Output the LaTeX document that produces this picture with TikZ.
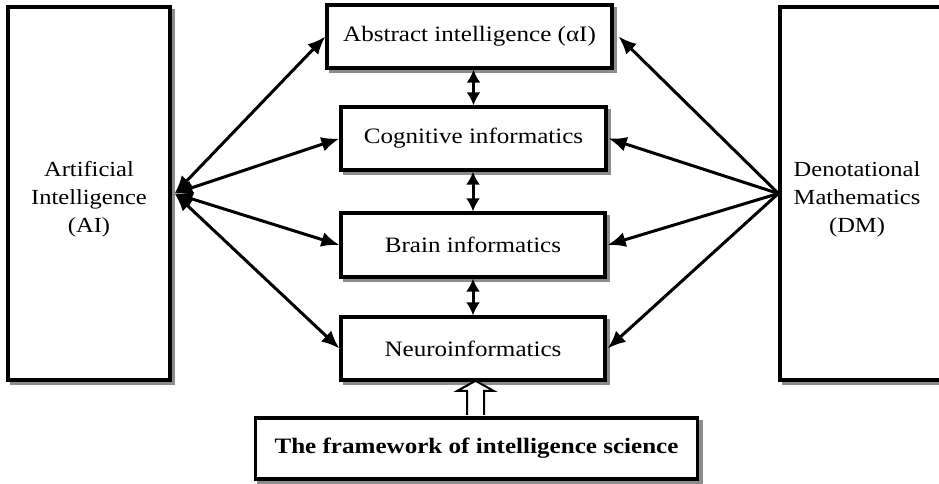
\documentclass[tikz,border=0pt]{standalone}
\usepackage{fontspec}
\setmainfont[FakeStretch=1.14]{Liberation Serif}
\usetikzlibrary{arrows.meta}
\begin{document}
\begin{tikzpicture}[x=1pt,y=-1pt,
  box/.style={draw,line width=3.2pt,fill=white,inner sep=0pt,
    preaction={draw=black!45,fill=black!45,line width=3.2pt,transform canvas={xshift=3.5pt,yshift=-3.5pt}}},
  lbl/.style={font=\fontsize{22}{26}\selectfont},
  side/.style={font=\fontsize{21.5}{28}\selectfont,align=center},
  conn/.style={line width=3pt,-{Latex[length=18pt,width=15pt]}},
  bothconn/.style={line width=3pt,{Latex[length=18pt,width=15pt]}-{Latex[length=18pt,width=15pt]}},
  vconn/.style={line width=3pt,{Latex[length=13pt,width=14pt]}-{Latex[length=13pt,width=14pt]}},
  hollow/.style={line width=2pt,fill=white,line join=miter}]
\useasboundingbox (0,0) rectangle (939,484);
\fill[white] (0,0) rectangle (939,484);

\node[box,minimum width=162pt,minimum height=373pt,
  label={[side,yshift=-6pt]center:{Artificial\\Intelligence\\(AI)}}] (ai) at (89,193.5) {};
\node[box,minimum width=162pt,minimum height=373pt,
  label={[side,yshift=-6pt,xshift=-4pt]center:{Denotational\\Mathematics\\(DM)}}] (dm) at (861,193.5) {};

\node[box,lbl,minimum width=285pt,minimum height=63pt] (abs) at (469.5,36.5) {Abstract intelligence (αI)};
\node[box,lbl,minimum width=265pt,minimum height=63pt] (cog) at (473.5,138.5) {Cognitive informatics};
\node[box,lbl,minimum width=264pt,minimum height=64pt] (brain) at (473,245) {Brain informatics};
\node[box,lbl,minimum width=264pt,minimum height=63pt] (neuro) at (473,348.5) {Neuroinformatics};
\node[box,lbl,font=\fontsize{22}{26}\selectfont\bfseries,minimum width=442pt,minimum height=61pt] (frame) at (476.5,448.5) {The framework of intelligence science};

% AI connectors
\draw[bothconn] ([xshift=3pt]ai.east) -- (abs.west);
\draw[bothconn] ([xshift=3pt]ai.east) -- (cog.west);
\draw[bothconn] ([xshift=3pt]ai.east) -- (brain.west);
\draw[bothconn] ([xshift=3pt]ai.east) -- (neuro.west);

% DM connectors
\draw[conn] (dm.west) -- ([xshift=5pt]abs.east);
\draw[conn] (dm.west) -- ([xshift=1pt]cog.east);
\draw[conn] (dm.west) -- ([xshift=1pt]brain.east);
\draw[conn] (dm.west) -- ([xshift=1pt]neuro.east);

% vertical connectors
\draw[vconn] (cog.north |- abs.south) -- (cog.north);
\draw[vconn] (brain.north |- cog.south) -- (brain.north);
\draw[vconn] (neuro.north |- brain.south) -- (neuro.north);

% hollow arrow
\draw[hollow] ([xshift=-1pt,yshift=1.6pt]frame.north) ++(-8.5,0) -- ++(0,-24) -- ++(-9.5,0)
  -- ++(18,-10) -- ++(18,10) -- ++(-9.5,0) -- ++(0,24);
\end{tikzpicture}
\end{document}
